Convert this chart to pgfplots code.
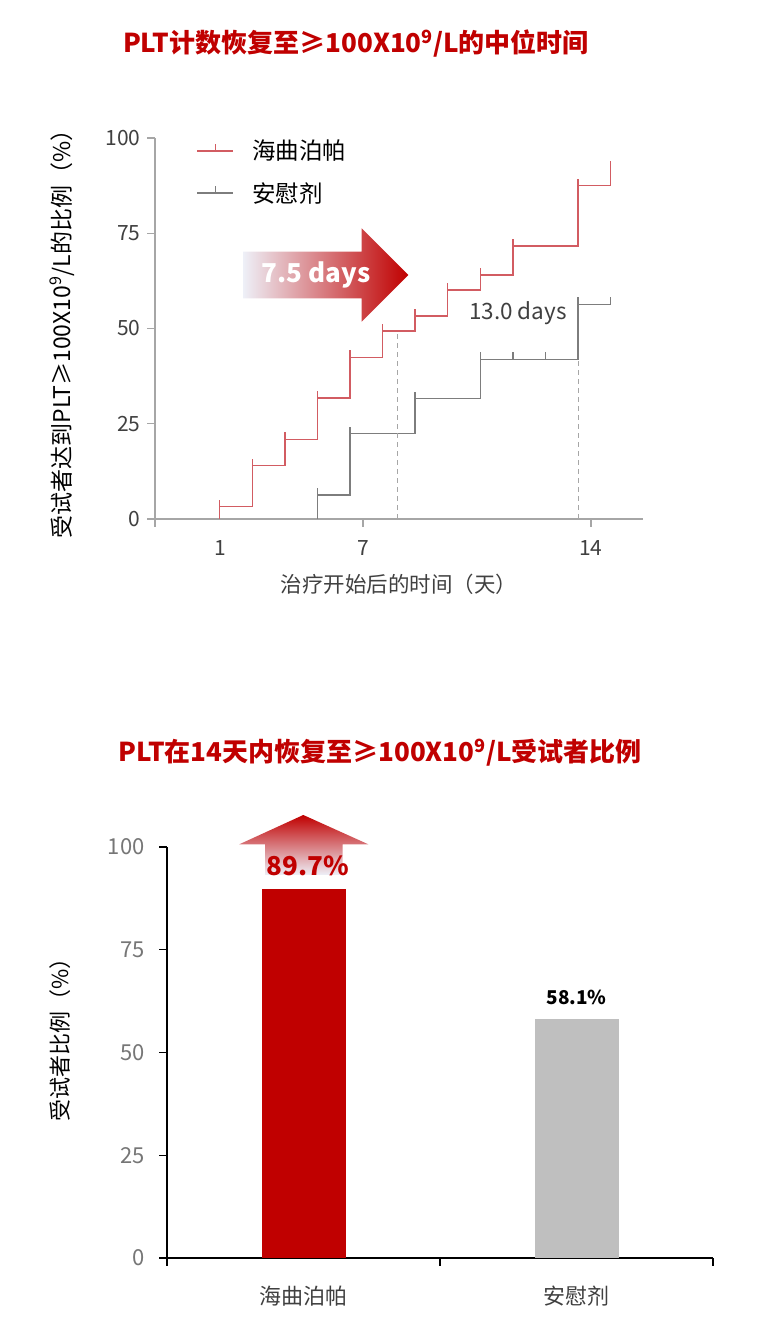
\documentclass[border=0pt]{standalone}
\usepackage{fontspec}
\setmainfont{Noto Sans CJK SC}
\usepackage{pgfplots}
\pgfplotsset{compat=1.18}

\definecolor{titlered}{RGB}{192,0,0}
\definecolor{kmred}{RGB}{210,92,98}
\definecolor{kmgray}{RGB}{125,125,125}
\definecolor{axgray}{RGB}{166,166,166}
\definecolor{txtgray}{RGB}{64,64,64}
\definecolor{lightnum}{RGB}{118,118,118}
\definecolor{bargray}{RGB}{191,191,191}
\definecolor{fade}{RGB}{238,240,248}

% small censoring tick pointing up
\pgfdeclareplotmark{uptick}{%
  \pgfpathmoveto{\pgfpointorigin}%
  \pgfpathlineto{\pgfpoint{0pt}{\pgfplotmarksize}}%
  \pgfusepathqstroke}

\newcommand{\fs}[1]{\fontsize{#1bp}{#1bp}\selectfont}

\begin{document}
\begin{tikzpicture}[x=1bp,y=1bp]
\path[use as bounding box] (0,0) rectangle (756,1320);

% ---------- titles ----------
\node[font=\bfseries\fs{26}, text=titlered] at (356,1276)
  {PLT计数恢复至≥100X10\textsuperscript{9}/L的中位时间};
\node[font=\bfseries\fs{26}, text=titlered] at (380,567)
  {PLT在14天内恢复至≥100X10\textsuperscript{9}/L受试者比例};

% ---------- time to recovery ----------
\begin{axis}[
  at={(155bp,801bp)}, anchor=south west,
  scale only axis, width=488bp, height=381bp,
  xmin=0.614, xmax=15.597, ymin=0, ymax=100,
  axis x line*=bottom, axis y line*=left,
  axis line style={axgray, line width=1.4bp},
  tick style={axgray, line width=1.4bp},
  tick align=outside, major tick length=8bp,
  xtick={0.614,7,14}, xticklabels={,7,14},
  ytick={0,25,50,75,100},
  /pgf/number format/assume math mode=true,
  ticklabel style={font=\fs{21}, text=txtgray},
  xticklabel style={yshift=-10bp},
  yticklabel style={xshift=-3bp},
  xlabel={治疗开始后的时间（天）},
  xlabel style={at={(axis description cs:0.5,-0.172)}, anchor=center,
    font=\fs{21.5}, text=txtgray},
  ylabel={受试者达到PLT≥100X10\textsuperscript{9}/L的比例（\%）},
  ylabel style={at={(axis description cs:-0.19,0.5)}, anchor=center,
    font=\fs{23}, text=black},
  legend cell align=left,
  legend style={draw=none, fill=none, font=\fs{23.5},
    at={(axis description cs:0.085,1.0)}, anchor=north west,
    row sep=17bp, inner sep=0pt,
    /tikz/every odd column/.append style={column sep=16bp}},
  clip=false,
]
\addplot[const plot mark left, kmred, line width=1.4bp,
  mark=uptick, mark size=7bp, mark indices={2,...,12},
  legend image code/.code={%
    \draw[kmred, line width=1.4bp] (0bp,0bp) -- (36bp,0bp);
    \draw[kmred, line width=1.4bp] (18bp,0bp) -- (18bp,7bp);}]
  coordinates {(2.6,0)(2.6,3.2)(3.6,14.0)(4.6,20.9)(5.6,31.8)(6.6,42.4)
    (7.6,49.3)(8.6,53.3)(9.6,60.1)(10.6,64.0)(11.6,71.6)(13.6,87.5)
    (14.6,87.5)(14.6,94.0)};
\addlegendentry{海曲泊帕}
\addplot[const plot mark left, kmgray, line width=1.4bp,
  mark=uptick, mark size=7bp, mark indices={2,...,9},
  legend image code/.code={%
    \draw[kmgray, line width=1.4bp] (0bp,0bp) -- (36bp,0bp);
    \draw[kmgray, line width=1.4bp] (18bp,0bp) -- (18bp,7bp);}]
  coordinates {(5.6,0)(5.6,6.3)(6.6,22.4)(8.6,31.6)(10.6,41.9)
    (11.6,41.9)(12.6,41.9)(13.6,56.3)(14.6,56.3)};
\addlegendentry{安慰剂}
% medians
\addplot[forget plot, axgray, line width=1.2bp, dash pattern=on 5bp off 4bp]
  coordinates {(8.07,0)(8.07,49.3)};
\addplot[forget plot, axgray, line width=1.2bp, dash pattern=on 5bp off 4bp]
  coordinates {(13.62,0)(13.62,41.9)};
% the first day label has no tick of its own in the original
\node[anchor=north, font=\fs{21}, text=txtgray] at (axis cs:2.61,0)
  [yshift=-18bp] {1};
\end{axis}

\shade[left color=fade, right color=titlered]
  (243,1021.7) -- (361.7,1021.7) -- (361.7,998.3) -- (408.3,1045)
  -- (361.7,1091.7) -- (361.7,1068.3) -- (243,1068.3) -- cycle;
\node[font=\bfseries\fs{26}, text=white] at (316,1045) {7.5 days};
\node[font=\fs{22.5}, text=txtgray] at (518,1007) {13.0 days};

% ---------- proportion within 14 days ----------
\begin{axis}[
  at={(167bp,62bp)}, anchor=south west,
  scale only axis, width=546bp, height=411bp,
  xmin=0, xmax=2, ymin=0, ymax=100,
  axis x line*=bottom, axis y line*=left,
  axis line style={black, line width=1.4bp},
  tick style={black, line width=1.4bp},
  tick align=outside, major tick length=8bp,
  xtick={0,1,2}, xticklabels={},
  extra x ticks={0.5,1.5}, extra x tick labels={海曲泊帕,安慰剂},
  extra x tick style={major tick length=0pt},
  ytick={0,25,50,75,100},
  /pgf/number format/assume math mode=true,
  yticklabel style={font=\fs{22}, text=lightnum, xshift=-11bp},
  xticklabel style={font=\fs{22}, text=txtgray, yshift=-24bp},
  ylabel={受试者比例（\%）},
  ylabel style={at={(axis description cs:-0.195,0.543)}, anchor=center,
    font=\fs{22}, text=black},
  clip=false,
]
\addplot[ybar, bar shift=0pt, bar width=84bp, fill=titlered, draw=none]
  coordinates {(0.5,89.7)};
\addplot[ybar, bar shift=0pt, bar width=84bp, fill=bargray, draw=none]
  coordinates {(1.5,58.1)};
\node[font=\bfseries\fs{19}, text=black] at (axis cs:1.5,58.1) [yshift=22bp] {58.1\%};
\end{axis}

\shade[top color=titlered, bottom color=fade]
  (265,445) -- (342.7,445) -- (342.7,475.7) -- (368.3,475.7) -- (303.3,505)
  -- (239.3,475.7) -- (265,475.7) -- cycle;
\node[font=\bfseries\fs{26}, text=titlered] at (308,454) {89.7\%};
\end{tikzpicture}
\end{document}
